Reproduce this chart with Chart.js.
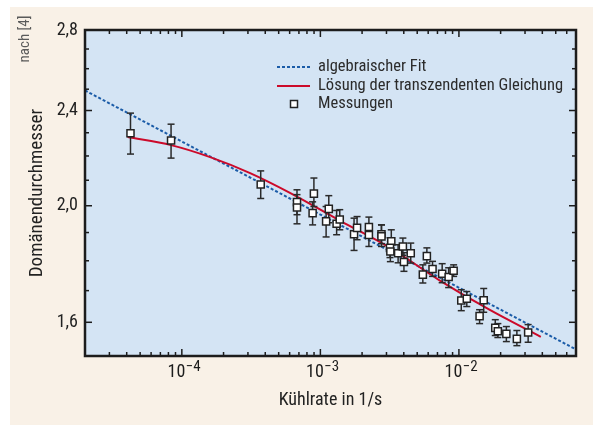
<!DOCTYPE html>
<html>
<head>
<meta charset="utf-8">
<script src="https://cdn.jsdelivr.net/npm/chart.js@4.4.1/dist/chart.umd.min.js"></script>
<style>
html, body { margin: 0; padding: 0; background: #fff; }
#wrap { width: 593px; height: 425px; }
</style>
</head>
<body>
<div id="wrap"><canvas id="kuehlChart" width="593" height="425"></canvas></div>
<script>
"use strict";
// Messungen: Kühlrate (1/s), Domänendurchmesser, Fehlerbalken unten/oben
var rates = [4.26e-5, 8.36e-5, 3.71e-4, 6.78e-4, 6.78e-4, 8.98e-4, 8.79e-4, 1.10e-3, 1.15e-3, 1.31e-3,
	1.38e-3, 1.75e-3, 1.84e-3, 2.24e-3, 2.24e-3, 2.76e-3, 2.76e-3, 3.25e-3, 3.18e-3, 3.20e-3,
	3.64e-3, 3.94e-3, 4.01e-3, 4.49e-3, 5.87e-3, 5.49e-3, 6.45e-3, 7.57e-3, 8.43e-3, 9.16e-3,
	1.04e-2, 1.14e-2, 1.51e-2, 1.41e-2, 1.83e-2, 1.91e-2, 2.20e-2, 2.62e-2, 3.16e-2];
var diameters = [2.298, 2.266, 2.083, 2.014, 1.993, 2.047, 1.972, 1.941, 1.988, 1.932,
	1.948, 1.894, 1.917, 1.920, 1.891, 1.894, 1.886, 1.868, 1.845, 1.832,
	1.826, 1.850, 1.796, 1.826, 1.816, 1.753, 1.772, 1.756, 1.745, 1.766,
	1.668, 1.674, 1.669, 1.619, 1.583, 1.573, 1.565, 1.550, 1.569];
var errLow = [2.208, 2.191, 2.028, 1.966, 1.932, 1.997, 1.928, 1.884, 1.936, 1.892,
	1.910, 1.836, 1.874, 1.885, 1.850, 1.860, 1.850, 1.832, 1.811, 1.797,
	1.793, 1.819, 1.764, 1.792, 1.792, 1.725, 1.747, 1.726, 1.710, 1.747,
	1.636, 1.649, 1.631, 1.596, 1.560, 1.554, 1.542, 1.530, 1.540];
var errHigh = [2.388, 2.338, 2.138, 2.062, 2.043, 2.109, 2.015, 1.997, 2.039, 1.982,
	1.985, 1.953, 1.959, 1.957, 1.928, 1.928, 1.928, 1.910, 1.881, 1.867,
	1.856, 1.880, 1.828, 1.862, 1.845, 1.786, 1.798, 1.790, 1.776, 1.786,
	1.703, 1.697, 1.707, 1.639, 1.608, 1.596, 1.587, 1.575, 1.593];

// algebraischer Fit (Gerade im log-log)
var fitRates = [2e-5, 0.07];
var fitDiameters = [2.494, 1.519];

// Lösung der transzendenten Gleichung
var solRates = [4.06e-5, 8.36e-5, 1.60e-4, 3.11e-4, 6.03e-4, 1.38e-3, 3.16e-3, 7.24e-3, 1.66e-2, 3.90e-2];
var solDiameters = [2.281, 2.246, 2.195, 2.129, 2.050, 1.944, 1.846, 1.734, 1.639, 1.556];

var yTickValues = [1.6, 2.0, 2.4, 2.8];
var yTickLabels = ['1,6', '2,0', '2,4', '2,8'];
var xTickValues = [1e-4, 1e-3, 1e-2];
var xTickExponents = ['\u22124', '\u22123', '\u22122'];
var legendLabels = ['algebraischer Fit', 'L\u00f6sung der transzendenten Gleichung', 'Messungen'];

var FONT = '"Roboto Condensed", "DejaVu Sans Condensed", sans-serif';
var BLUE = '#1b5ca8';
var RED = '#cc0a2a';
var INK = '#1c1c1c';

function toPoints(xs, ys) {
	return xs.map(function (x, i) { return { x: x, y: ys[i] }; });
}

function line(c, x1, y1, x2, y2) {
	c.beginPath();
	c.moveTo(x1, y1);
	c.lineTo(x2, y2);
	c.stroke();
}

var framePlugin = {
	id: 'frame',
	beforeDraw: function (chart) {
		var c = chart.ctx, a = chart.chartArea;
		c.save();
		c.fillStyle = '#ffffff';
		c.fillRect(0, 0, chart.width, chart.height);
		c.fillStyle = '#f9f1e7';
		c.fillRect(10, 7, chart.width - 10, chart.height - 7);
		c.fillStyle = '#d4e4f4';
		c.fillRect(a.left, a.top, a.right - a.left, a.bottom - a.top);
		c.restore();
	},
	// error bars go under the squares
	beforeDatasetDraw: function (chart, args) {
		if (args.index !== 2) return;
		var c = chart.ctx, xs = chart.scales.x, ys = chart.scales.y;
		c.save();
		c.strokeStyle = '#2a2a2a';
		c.lineWidth = 1.5;
		for (var i = 0; i < rates.length; i++) {
			var px = xs.getPixelForValue(rates[i]);
			var top = ys.getPixelForValue(errHigh[i]);
			var bot = ys.getPixelForValue(errLow[i]);
			line(c, px, top, px, bot);
			line(c, px - 3.5, top, px + 3.5, top);
			line(c, px - 3.5, bot, px + 3.5, bot);
		}
		c.restore();
	},
	afterDraw: function (chart) {
		var c = chart.ctx, a = chart.chartArea, xs = chart.scales.x, ys = chart.scales.y;
		c.save();
		c.strokeStyle = INK;
		c.lineWidth = 1.5;

		// x ticks, bottom and top, pointing inward
		for (var e = -5; e <= -1; e++) {
			for (var m = 1; m < 10; m++) {
				var v = m * Math.pow(10, e);
				if (v < xs.min * 0.999 || v > xs.max * 1.001) continue;
				var px = xs.getPixelForValue(v);
				var len = m === 1 ? 7 : 4;
				line(c, px, a.bottom, px, a.bottom - len);
				line(c, px, a.top, px, a.top + len);
			}
		}
		// y ticks every 0.1, left and right
		for (var k = 15; k <= 28; k++) {
			var py = ys.getPixelForValue(k / 10);
			var ylen = (k % 4 === 0) ? 7 : 4;
			line(c, a.left, py, a.left + ylen, py);
			line(c, a.right, py, a.right - ylen, py);
		}

		// frame
		c.lineWidth = 2.5;
		c.strokeRect(a.left, a.top, a.right - a.left, a.bottom - a.top);

		// x tick labels 10^n
		c.fillStyle = INK;
		c.textBaseline = 'alphabetic';
		c.textAlign = 'left';
		xTickValues.forEach(function (v, i) {
			var px = xs.getPixelForValue(v);
			c.font = '18px ' + FONT;
			var w1 = c.measureText('10').width;
			c.font = '15px ' + FONT;
			var w2 = c.measureText(xTickExponents[i]).width;
			var x0 = px + 2 - (w1 + w2) / 2;
			c.font = '18px ' + FONT;
			c.fillText('10', x0, a.bottom + 21);
			c.font = '15px ' + FONT;
			c.fillText(xTickExponents[i], x0 + w1 + 0.5, a.bottom + 15);
		});

		// legend
		var lx = a.left + 192, tx = a.left + 233;
		var rows = [a.top + 37, a.top + 56, a.top + 74];
		c.lineWidth = 2;
		c.strokeStyle = BLUE;
		c.setLineDash([3, 2]);
		line(c, lx, rows[0], lx + 33, rows[0]);
		c.setLineDash([]);
		c.strokeStyle = RED;
		line(c, lx, rows[1], lx + 33, rows[1]);
		c.fillStyle = '#ffffff';
		c.strokeStyle = '#222';
		c.lineWidth = 1.5;
		c.fillRect(lx + 13.5, rows[2] - 3.5, 7, 7);
		c.strokeRect(lx + 13.5, rows[2] - 3.5, 7, 7);
		c.fillStyle = '#2b2b2b';
		c.font = '16.5px ' + FONT;
		c.textBaseline = 'middle';
		legendLabels.forEach(function (t, i) { c.fillText(t, tx, rows[i]); });

		// source note
		c.translate(25, 39);
		c.rotate(-Math.PI / 2);
		c.font = '15px ' + FONT;
		c.fillStyle = '#5a5a5a';
		c.textAlign = 'center';
		c.fillText('nach [4]', 0, 0);
		c.restore();
	}
};

var ctx = document.getElementById('kuehlChart');
var data = {
	datasets: [{
		label: legendLabels[0],
		data: toPoints(fitRates, fitDiameters),
		showLine: true,
		borderColor: BLUE,
		borderWidth: 2,
		borderDash: [3, 2],
		pointRadius: 0,
		order: 2
	}, {
		label: legendLabels[1],
		data: toPoints(solRates, solDiameters),
		showLine: true,
		borderColor: RED,
		borderWidth: 2,
		cubicInterpolationMode: 'monotone',
		pointRadius: 0,
		order: 1
	}, {
		label: legendLabels[2],
		data: toPoints(rates, diameters),
		showLine: false,
		pointStyle: 'rect',
		pointRadius: 5,
		pointBackgroundColor: '#ffffff',
		pointBorderColor: '#222222',
		pointBorderWidth: 1.5,
		order: 0
	}]
};

var config = {
	type: 'scatter',
	data: data,
	options: {
		responsive: false,
		animation: false,
		layout: { padding: { left: 0, top: 30, right: 17, bottom: 0 } },
		plugins: {
			legend: { display: false },
			tooltip: { enabled: false }
		},
		scales: {
			x: {
				type: 'logarithmic',
				min: 2e-5,
				max: 0.07,
				grid: { display: false, drawTicks: false },
				border: { display: false },
				ticks: { display: false },
				title: {
					display: true,
					text: 'K\u00fchlrate in 1/s',
					color: '#222',
					font: { family: FONT, size: 18 },
					padding: { top: 0, bottom: 14 }
				},
				afterFit: function (scale) { scale.height = 69; }
			},
			y: {
				type: 'logarithmic',
				min: 1.5,
				max: 2.8,
				grid: { display: false, drawTicks: false },
				border: { display: false },
				afterBuildTicks: function (scale) {
					scale.ticks = yTickValues.map(function (v) { return { value: v }; });
				},
				ticks: {
					padding: 7,
					color: '#222',
					font: { family: FONT, size: 18 },
					callback: function (value) {
						var i = yTickValues.indexOf(value);
						return i >= 0 ? yTickLabels[i] : '';
					}
				},
				title: {
					display: true,
					text: 'Dom\u00e4nendurchmesser',
					color: '#222',
					font: { family: FONT, size: 19 },
					padding: { top: 26, bottom: 0 }
				},
				afterFit: function (scale) { scale.width = 85; }
			}
		}
	},
	plugins: [framePlugin]
};
var kuehlChart = new Chart(ctx, config);
</script>
</body>
</html>
